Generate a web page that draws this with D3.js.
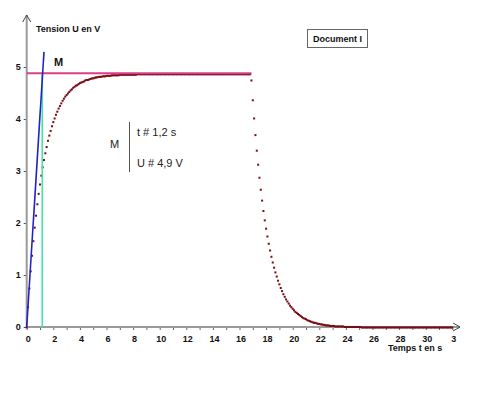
<!DOCTYPE html>
<html>
<head>
<meta charset="utf-8">
<script src="https://cdn.jsdelivr.net/npm/d3@7"></script>
<style>
  html, body { margin: 0; padding: 0; background: #fff; }
  svg { display: block; }
  text { font-family: "Liberation Sans", Arial, sans-serif; }
</style>
</head>
<body>
<div id="chart"></div>
<script>
// acquisition grid (s)
const sampleStep = 0.1;
const chargeStart = 0;
const dischargeStart = 16.9;

// charge: U (V) every 0.1 s from t = 0
const chargeU = [
  0.00,0.39,0.75,1.08,1.38,1.66,1.92,2.15,2.37,2.57,
  2.75,2.92,3.08,3.22,3.35,3.47,3.59,3.69,3.78,3.87,
  3.95,4.02,4.09,4.15,4.21,4.26,4.31,4.36,4.40,4.44,
  4.47,4.50,4.53,4.56,4.58,4.61,4.63,4.65,4.66,4.68,
  4.70,4.71,4.72,4.73,4.75,4.76,4.76,4.77,4.78,4.79,
  4.79,4.80,4.81,4.81,4.82,4.82,4.82,4.83,4.83,4.83,
  4.84,4.84,4.84,4.84,4.85,4.85,4.85,4.85,4.85,4.85,
  4.86,4.86,4.86,4.86,4.86,4.86,4.86,4.86,4.86,4.86,
  4.86,4.86,4.86,4.87,4.87,4.87,4.87,4.87,4.87,4.87,
  4.87,4.87,4.87,4.87,4.87,4.87,4.87,4.87,4.87,4.87,
  4.87,4.87,4.87,4.87,4.87,4.87,4.87,4.87,4.87,4.87,
  4.87,4.87,4.87,4.87,4.87,4.87,4.87,4.87,4.87,4.87,
  4.87,4.87,4.87,4.87,4.87,4.87,4.87,4.87,4.87,4.87,
  4.87,4.87,4.87,4.87,4.87,4.87,4.87,4.87,4.87,4.87,
  4.87,4.87,4.87,4.87,4.87,4.87,4.87,4.87,4.87,4.87,
  4.87,4.87,4.87,4.87,4.87,4.87,4.87,4.87,4.87,4.87,
  4.87,4.87,4.87,4.87,4.87,4.87,4.87,4.87,4.87
];

// discharge: U (V) every 0.1 s from t = 16.9
const dischargeU = [
  4.75,4.37,4.02,3.70,3.40,3.13,2.88,2.65,2.44,2.24,
  2.06,1.90,1.75,1.61,1.48,1.36,1.25,1.15,1.06,0.98,
  0.90,0.83,0.76,0.70,0.64,0.59,0.54,0.50,0.46,0.42,
  0.39,0.36,0.33,0.30,0.28,0.26,0.24,0.22,0.20,0.18,
  0.17,0.16,0.14,0.13,0.12,0.11,0.10,0.09,0.09,0.08,
  0.07,0.07,0.06,0.06,0.05,0.05,0.04,0.04,0.04,0.03,
  0.03,0.03,0.03,0.02,0.02,0.02,0.02,0.02,0.02,0.02,
  0.01,0.01,0.01,0.01,0.01,0.01,0.01,0.01,0.01,0.01,
  0.01,0.01,0.01,0.00,0.00,0.00,0.00,0.00,0.00,0.00,
  0.00,0.00,0.00,0.00,0.00,0.00,0.00,0.00,0.00,0.00,
  0.00,0.00,0.00,0.00,0.00,0.00,0.00,0.00,0.00,0.00,
  0.00,0.00,0.00,0.00,0.00,0.00,0.00,0.00,0.00,0.00,
  0.00,0.00,0.00,0.00,0.00,0.00,0.00,0.00,0.00,0.00,
  0.00,0.00,0.00,0.00,0.00,0.00,0.00,0.00,0.00,0.00,
  0.00,0.00,0.00,0.00,0.00,0.00,0.00,0.00,0.00,0.00,
  0.00,0.00
];

// construction lines
const asymptoteU = 4.87;
const asymptoteEnd = 16.9;
const tangentPts = [[0, 0], [1.3, 5.29]];
const pointM = [1.17, 4.87];

// axes
const xTickValues = [0,2,4,6,8,10,12,14,16,18,20,22,24,26,28,30,32];
const xTickLabels = ["0","2","4","6","8","10","12","14","16","18","20","22","24","26","28","30","3"];
const xMinorTicks = d3.range(0, 33, 1);
const yTickValues = [0,1,2,3,4,5];
const yTickLabels = ["0","1","2","3","4","5"];

const width = 477, height = 398;
const svg = d3.select('#chart').append('svg')
  .attr('width', width)
  .attr('height', height);

svg.append('rect').attr('width', width).attr('height', height).attr('fill', '#fff');

const x = d3.scaleLinear().domain([0, 32]).range([26.7, 452.3]);
const y = d3.scaleLinear().domain([0, 5]).range([327, 67]);

const axisColor = '#9a9a9a';

// X axis: minor ticks every second, labels every 2 s
const xAxis = svg.append('g')
  .attr('transform', `translate(0,${y(0)})`)
  .call(d3.axisBottom(x).tickValues(xMinorTicks).tickSize(3).tickFormat(''));
xAxis.select('.domain').remove();
xAxis.selectAll('line').attr('stroke', '#666');

const xLab = svg.append('g')
  .attr('transform', `translate(1,${y(0)})`)
  .call(d3.axisBottom(x).tickValues(xTickValues).tickSize(0)
    .tickFormat((d, i) => xTickLabels[i]));
xLab.select('.domain').remove();
xLab.selectAll('text')
  .attr('dy', '12px')
  .style('font-size', '9px')
  .style('font-weight', 'bold')
  .style('font-family', '"Liberation Sans", Arial, sans-serif')
  .attr('fill', '#111');

// Y axis
const yAxis = svg.append('g')
  .attr('transform', `translate(${x(0)},0)`)
  .call(d3.axisLeft(y).tickValues(yTickValues).tickSize(3)
    .tickFormat((d, i) => yTickLabels[i]));
yAxis.select('.domain').remove();
yAxis.selectAll('line').attr('stroke', '#555');
yAxis.selectAll('text')
  .attr('x', -6)
  .style('font-size', '9px')
  .style('font-weight', 'bold')
  .style('font-family', '"Liberation Sans", Arial, sans-serif')
  .attr('fill', '#111');

// axis lines with arrows
svg.append('line')
  .attr('x1', x(0)).attr('y1', y(0)).attr('x2', 460).attr('y2', y(0))
  .attr('stroke', axisColor).attr('stroke-width', 2);
svg.append('path')
  .attr('d', `M453,${y(0) - 4}L460,${y(0)}L453,${y(0) + 4}`)
  .attr('fill', 'none').attr('stroke', '#444').attr('stroke-width', 1);
svg.append('line')
  .attr('x1', x(0)).attr('y1', y(0)).attr('x2', x(0)).attr('y2', 15)
  .attr('stroke', axisColor).attr('stroke-width', 2);
svg.append('path')
  .attr('d', `M${x(0) - 4},22L${x(0)},15L${x(0) + 4},22`)
  .attr('fill', 'none').attr('stroke', '#444').attr('stroke-width', 1);

// measurement points
const points = chargeU.map((u, i) => ({ t: chargeStart + i * sampleStep, u }))
  .concat(dischargeU.map((u, i) => ({ t: dischargeStart + i * sampleStep, u })));

svg.append('g').selectAll('rect')
  .data(points)
  .enter()
  .append('rect')
  .attr('x', d => x(d.t) - 1)
  .attr('y', d => y(d.u) - 0.5)
  .attr('width', 2)
  .attr('height', 2)
  .attr('fill', '#7a0a14');

// asymptote (drawn over the plateau, red shows just below)
svg.append('line')
  .attr('x1', x(0)).attr('y1', y(asymptoteU) - 0.5)
  .attr('x2', x(asymptoteEnd)).attr('y2', y(asymptoteU) - 0.5)
  .attr('stroke', '#d6408a').attr('stroke-width', 2);

// vertical at M
svg.append('line')
  .attr('x1', x(pointM[0])).attr('y1', y(0))
  .attr('x2', x(pointM[0])).attr('y2', y(pointM[1]))
  .attr('stroke', '#3fe4a6').attr('stroke-width', 1.6);

// tangent at origin
svg.append('line')
  .attr('x1', x(tangentPts[0][0])).attr('y1', y(tangentPts[0][1]))
  .attr('x2', x(tangentPts[1][0])).attr('y2', y(tangentPts[1][1]))
  .attr('stroke', '#2222c8').attr('stroke-width', 1.6);

// labels
svg.append('text').attr('x', 36).attr('y', 32)
  .style('font-size', '9px').style('font-weight', 'bold').attr('fill', '#111')
  .text('Tension U en V');

svg.append('text').attr('x', 388).attr('y', 351)
  .style('font-size', '9px').style('font-weight', 'bold').attr('fill', '#111')
  .text('Temps t en s');

svg.append('text').attr('x', 54).attr('y', 66)
  .style('font-size', '11px').style('font-weight', 'bold').attr('fill', '#111')
  .text('M');

svg.append('rect')
  .attr('x', 307.5).attr('y', 29.5).attr('width', 60).attr('height', 18)
  .attr('fill', 'none').attr('stroke', '#666');
svg.append('text').attr('x', 337.5).attr('y', 42)
  .attr('text-anchor', 'middle')
  .style('font-size', '9px').style('font-weight', 'bold').attr('fill', '#111')
  .text('Document I');

// annotation for M
svg.append('text').attr('x', 110).attr('y', 148)
  .style('font-size', '11px').attr('fill', '#222')
  .text('M');
svg.append('line')
  .attr('x1', 129.5).attr('y1', 122).attr('x2', 129.5).attr('y2', 172)
  .attr('stroke', '#555').attr('stroke-width', 1);
svg.append('text').attr('x', 137).attr('y', 135.5)
  .style('font-size', '11px').attr('fill', '#222')
  .text('t # 1,2 s');
svg.append('text').attr('x', 137).attr('y', 166.5)
  .style('font-size', '11px').attr('fill', '#222')
  .text('U # 4,9 V');
</script>
</body>
</html>
